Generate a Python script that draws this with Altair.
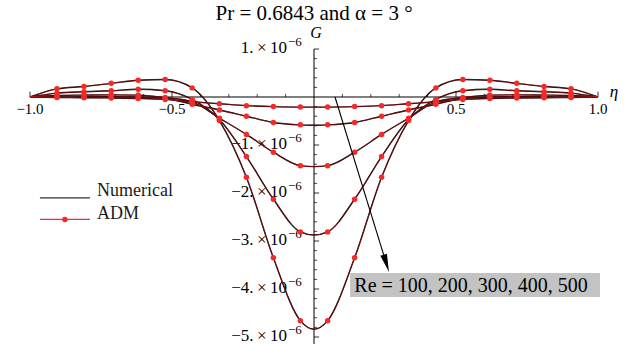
import altair as alt
import pandas as pd

# ---------------------------------------------------------------- data
# ADM collocation nodes along eta
eta_nodes = [-0.905, -0.810, -0.714, -0.619, -0.524, -0.429, -0.333, -0.238, -0.143, -0.048,
             0.048, 0.143, 0.238, 0.333, 0.429, 0.524, 0.619, 0.714, 0.810, 0.905]
reynolds = [100, 200, 300, 400, 500]

# G at the nodes (units of 1e-6), one list per Reynolds number
g_adm = {
    100: [-0.01, -0.015, -0.02, -0.03, -0.05, -0.10, -0.14, -0.18, -0.20, -0.21,
          -0.21, -0.20, -0.18, -0.14, -0.10, -0.05, -0.03, -0.02, -0.015, -0.01],
    200: [0.0, 0.005, 0.005, 0.0, -0.03, -0.15, -0.27, -0.40, -0.53, -0.58,
          -0.58, -0.53, -0.40, -0.27, -0.15, -0.03, 0.0, 0.005, 0.005, 0.0],
    300: [0.03, 0.04, 0.045, 0.04, -0.01, -0.10, -0.44, -0.78, -1.15, -1.43,
          -1.43, -1.15, -0.78, -0.44, -0.10, -0.01, 0.04, 0.045, 0.04, 0.03],
    400: [0.08, 0.11, 0.13, 0.16, 0.13, -0.05, -0.47, -1.24, -2.13, -2.81,
          -2.81, -2.13, -1.24, -0.47, -0.05, 0.13, 0.16, 0.13, 0.11, 0.08],
    500: [0.17, 0.22, 0.285, 0.35, 0.365, 0.19, -0.49, -1.67, -3.35, -4.66,
          -4.66, -3.35, -1.67, -0.49, 0.19, 0.365, 0.35, 0.285, 0.22, 0.17],
}
# numerical solution: walls (eta = -1, 1) and centreline (eta = 0)
eta_walls = [-1.0, 1.0]
g_walls = [0.0, 0.0]
eta_centre = 0.0
g_centre = {100: -0.21, 200: -0.59, 300: -1.45, 400: -2.875, 500: -4.84}

# axes
x_tick_major = [-1.0, -0.5, 0.5, 1.0]
x_tick_labels = ["\u22121.0", "\u22120.5", "0.5", "1.0"]
x_tick_minor = [-0.9, -0.8, -0.7, -0.6, -0.4, -0.3, -0.2, -0.1,
                0.1, 0.2, 0.3, 0.4, 0.6, 0.7, 0.8, 0.9]
y_tick_major = [1, -1, -2, -3, -4, -5]
y_tick_labels = ["1.\u2009\u00d7\u200910", "\u22121.\u2009\u00d7\u200910", "\u22122.\u2009\u00d7\u200910",
                 "\u22123.\u2009\u00d7\u200910", "\u22124.\u2009\u00d7\u200910", "\u22125.\u2009\u00d7\u200910"]
y_tick_minor = [0.8, 0.6, 0.4, 0.2, -0.2, -0.4, -0.6, -0.8,
                -1.2, -1.4, -1.6, -1.8, -2.2, -2.4, -2.6, -2.8,
                -3.2, -3.4, -3.6, -3.8, -4.2, -4.4, -4.6, -4.8]

# annotation geometry (data units)
arrow_eta = [0.074, 0.2546]
arrow_g = [0.0, -3.467]
box_eta = [0.127, 1.007]
box_g = [-3.667, -4.167]
legend_line_eta = [-0.965, -0.789]
legend_g = [-2.10, -2.55]
legend_text_g = [-1.958, -2.437]

# ---------------------------------------------------------------- tables
curve_rows, node_rows = [], []
for re in reynolds:
    vals = g_adm[re]
    etas = [eta_walls[0]] + eta_nodes[:10] + [eta_centre] + eta_nodes[10:] + [eta_walls[1]]
    gs = [g_walls[0]] + vals[:10] + [g_centre[re]] + vals[10:] + [g_walls[1]]
    for e, g in zip(etas, gs):
        curve_rows.append({"Re": re, "eta": e, "G": g})
    for e, g in zip(eta_nodes, vals):
        node_rows.append({"Re": re, "eta": e, "G": g})
curves = pd.DataFrame(curve_rows)
nodes = pd.DataFrame(node_rows)

W, H = 628, 344
xs = alt.Scale(domain=[-1.1056, 1.1056], nice=False, zero=False)
ys = alt.Scale(domain=[-5.146, 2.021], nice=False, zero=False)
SERIF = "Liberation Serif"


def X(f="eta"):
    return alt.X(f, type="quantitative", scale=xs, axis=None)


def Y(f="G"):
    return alt.Y(f, type="quantitative", scale=ys, axis=None)


# ---------------------------------------------------------------- axes
x_axis = alt.Chart(pd.DataFrame({"eta": [eta_walls[0]], "eta2": [eta_walls[1]], "G": [0.0]})).mark_rule(
    color="black", strokeWidth=1).encode(x=X(), x2="eta2", y=Y())
y_axis = alt.Chart(pd.DataFrame({"eta": [0.0], "G": [1.0], "G2": [-5.3]})).mark_rule(
    color="black", strokeWidth=1).encode(x=X(), y=Y(), y2="G2")

xt_major = alt.Chart(pd.DataFrame({"eta": x_tick_major, "G": 0.0, "G2": 0.11})).mark_rule(
    color="black", strokeWidth=0.8).encode(x=X(), y=Y(), y2="G2")
xt_minor = alt.Chart(pd.DataFrame({"eta": x_tick_minor, "G": 0.0, "G2": 0.065})).mark_rule(
    color="black", strokeWidth=0.7).encode(x=X(), y=Y(), y2="G2")
yt_major = alt.Chart(pd.DataFrame({"G": y_tick_major, "eta": 0.0, "eta2": 0.018})).mark_rule(
    color="black", strokeWidth=0.8).encode(x=X(), x2="eta2", y=Y())
yt_minor = alt.Chart(pd.DataFrame({"G": y_tick_minor, "eta": 0.0, "eta2": 0.011})).mark_rule(
    color="black", strokeWidth=0.7).encode(x=X(), x2="eta2", y=Y())

x_labels = alt.Chart(pd.DataFrame({"eta": x_tick_major, "G": 0.0, "t": x_tick_labels})).mark_text(
    font=SERIF, fontSize=15, baseline="middle", dy=12, color="black").encode(x=X(), y=Y(), text="t:N")
y_labels = alt.Chart(pd.DataFrame({"G": y_tick_major, "eta": 0.0, "t": y_tick_labels})).mark_text(
    font=SERIF, fontSize=17, align="right", baseline="middle", dx=-27, dy=-1, color="black").encode(
    x=X(), y=Y(), text="t:N")
y_exp = alt.Chart(pd.DataFrame({"G": y_tick_major, "eta": 0.0, "t": ["\u22126"] * len(y_tick_major)})).mark_text(
    font=SERIF, fontSize=13, align="left", baseline="middle", dx=-26, dy=-7, color="black").encode(
    x=X(), y=Y(), text="t:N")

g_title = alt.Chart(pd.DataFrame({"eta": [0.007], "G": [1.333], "t": ["G"]})).mark_text(
    font=SERIF, fontSize=16, fontStyle="italic", color="black").encode(x=X(), y=Y(), text="t:N")
eta_title = alt.Chart(pd.DataFrame({"eta": [1.056], "G": [0.104], "t": ["\u03b7"]})).mark_text(
    font=SERIF, fontSize=17, fontStyle="italic", color="black").encode(x=X(), y=Y(), text="t:N")
title = alt.Chart(pd.DataFrame({"eta": [0.0], "G": [1.73], "t": ["Pr = 0.6843 and \u03b1 = 3 \u00b0"]})).mark_text(
    font=SERIF, fontSize=21, color="black").encode(x=X(), y=Y(), text="t:N")

# ---------------------------------------------------------------- curves
numerical = alt.Chart(curves).mark_line(color="black", strokeWidth=1.4, interpolate="monotone").encode(
    x=X(), y=Y(), detail="Re:N")
adm_line = alt.Chart(curves).mark_line(color="#e01818", strokeWidth=1.0, opacity=0.5,
                                       interpolate="monotone").encode(x=X(), y=Y(), detail="Re:N")
adm_pts = alt.Chart(nodes).mark_point(filled=True, color="#f42a2a", size=30, opacity=1).encode(
    x=X(), y=Y(), detail="Re:N")

# ---------------------------------------------------------------- legend
leg_lines = alt.Chart(pd.DataFrame({"eta": [legend_line_eta[0]] * 2, "eta2": [legend_line_eta[1]] * 2,
                                    "G": legend_g, "s": ["Numerical", "ADM"]})).mark_rule(strokeWidth=1.2).encode(
    x=X(), x2="eta2", y=Y(),
    color=alt.Color("s:N", scale=alt.Scale(domain=["Numerical", "ADM"], range=["#303030", "#f03030"]), legend=None))
leg_dot = alt.Chart(pd.DataFrame({"eta": [(legend_line_eta[0] + legend_line_eta[1]) / 2], "G": [legend_g[1]]})).mark_point(
    filled=True, color="#f42a2a", size=30, opacity=1).encode(x=X(), y=Y())
leg_text = alt.Chart(pd.DataFrame({"eta": [-0.764, -0.764], "G": legend_text_g, "t": ["Numerical", "ADM"]})).mark_text(
    font=SERIF, fontSize=18, align="left", baseline="middle", color="#1a1a1a").encode(x=X(), y=Y(), text="t:N")

# ---------------------------------------------------------------- annotation
arrow = alt.Chart(pd.DataFrame({"eta": [arrow_eta[0]], "eta2": [arrow_eta[1]], "G": [arrow_g[0]], "G2": [arrow_g[1]]})).mark_rule(
    color="black", strokeWidth=1.1).encode(x=X(), x2="eta2", y=Y(), y2="G2")
arrow_head = alt.Chart(pd.DataFrame({"eta": [arrow_eta[1]], "G": [arrow_g[1]]})).mark_point(
    shape="M-0.38,-1L0.38,-1L0,1Z", filled=True, color="black", size=330, angle=342.8, opacity=1).encode(x=X(), y=Y())
box = alt.Chart(pd.DataFrame({"eta": [box_eta[0]], "eta2": [box_eta[1]], "G": [box_g[0]], "G2": [box_g[1]]})).mark_rect(
    color="#c3c3c3").encode(x=X(), x2="eta2", y=Y(), y2="G2")
box_text = alt.Chart(pd.DataFrame({"eta": [0.142], "G": [-3.93], "t": ["Re = 100, 200, 300, 400, 500"]})).mark_text(
    font=SERIF, fontSize=20, align="left", baseline="middle", color="black").encode(x=X(), y=Y(), text="t:N")

chart = alt.layer(
    x_axis, y_axis, xt_major, xt_minor, yt_major, yt_minor,
    x_labels, y_labels, y_exp, g_title, eta_title, title,
    numerical, adm_line, adm_pts,
    leg_lines, leg_dot, leg_text,
    box, box_text, arrow, arrow_head,
).properties(
    width=W, height=H, autosize=alt.AutoSizeParams(type="none"), padding=0, background="white"
).configure_view(stroke=None)

chart.save("out.html", embed_options={"renderer": "svg", "actions": False})
